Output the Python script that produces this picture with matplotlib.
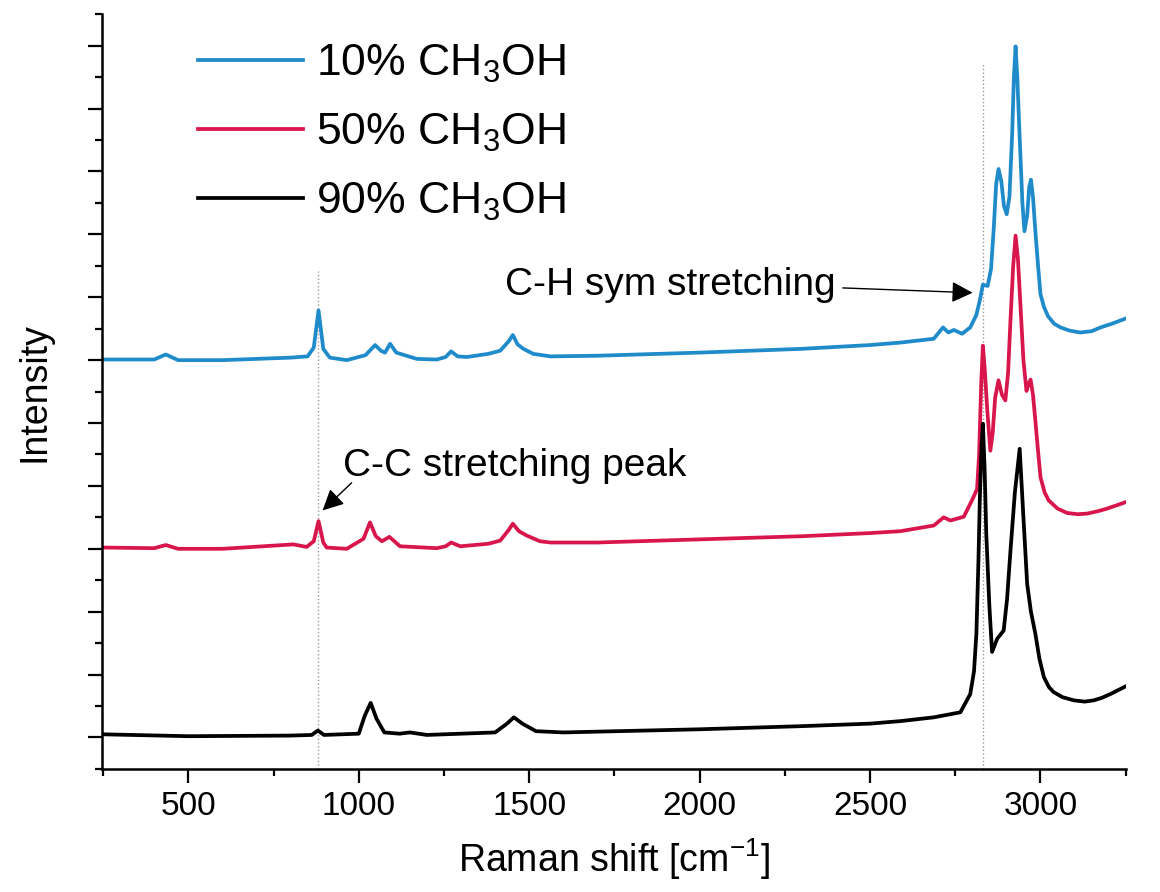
import numpy as np
import matplotlib
matplotlib.use('Agg')
import matplotlib.pyplot as plt
from matplotlib.ticker import MultipleLocator

plt.rcParams['font.family'] = ['Liberation Sans', 'DejaVu Sans']
plt.rcParams['mathtext.fontset'] = 'custom'
plt.rcParams['mathtext.rm'] = 'Liberation Sans'

blue_x = [250, 400, 434, 470, 600, 800, 850, 868, 882, 896, 915, 965, 1020, 1048, 1065, 1077,
          1092, 1110, 1170, 1229, 1255, 1271, 1290, 1317, 1380, 1415, 1440, 1452, 1466, 1483,
          1512, 1562, 1700, 2000, 2300, 2500, 2590, 2687, 2714, 2730, 2746, 2770, 2794, 2812,
          2822, 2831, 2845, 2855, 2863, 2870, 2877, 2885, 2893, 2901, 2909, 2917, 2922, 2927,
          2932, 2939, 2947, 2953, 2961, 2967, 2972, 2978, 2985, 2993, 3000, 3010, 3022, 3040,
          3059, 3085, 3117, 3150, 3176, 3210, 3249]
blue_y = [6.01, 6.01, 6.09, 6.0, 6.0, 6.04, 6.06, 6.2, 6.79, 6.18, 6.04, 6.0, 6.08, 6.24, 6.15, 6.12,
          6.26, 6.12, 6.02, 6.01, 6.05, 6.14, 6.06, 6.05, 6.1, 6.15, 6.3, 6.40, 6.25, 6.18,
          6.10, 6.06, 6.07, 6.12, 6.18, 6.24, 6.28, 6.34, 6.52, 6.44, 6.48, 6.42, 6.52, 6.72,
          6.95, 7.20, 7.18, 7.45, 8.1, 8.8, 9.04, 8.85, 8.45, 8.32, 8.6, 9.6, 10.5, 10.99,
          10.5, 9.54, 8.5, 8.05, 8.3, 8.75, 8.87, 8.6, 8.05, 7.5, 7.05, 6.85, 6.7, 6.58,
          6.52, 6.47, 6.44, 6.46, 6.52, 6.58, 6.66]

red_x = [250, 400, 434, 470, 600, 808, 847, 868, 882, 896, 906, 965, 1014, 1033, 1050, 1068,
         1090, 1121, 1229, 1255, 1271, 1298, 1380, 1415, 1440, 1452, 1470, 1493, 1532, 1562,
         1700, 2000, 2300, 2500, 2589, 2687, 2716, 2736, 2775, 2799, 2814, 2820, 2826, 2831,
         2836, 2844, 2853, 2860, 2867, 2877, 2887, 2897, 2905, 2912, 2920, 2927, 2934, 2941,
         2950, 2959, 2965, 2971, 2978, 2985, 2993, 3000, 3012, 3024, 3050, 3078, 3110, 3137,
         3170, 3196, 3249]
red_y = [3.02, 3.01, 3.06, 3.0, 3.0, 3.07, 3.03, 3.12, 3.44, 3.1, 3.02, 3.0, 3.16, 3.42, 3.2, 3.12,
         3.19, 3.04, 3.01, 3.04, 3.10, 3.04, 3.08, 3.13, 3.3, 3.40, 3.28, 3.21, 3.12, 3.10,
         3.1, 3.15, 3.2, 3.25, 3.28, 3.37, 3.50, 3.45, 3.51, 3.77, 3.95, 4.5, 5.6, 6.23,
         5.9, 5.2, 4.56, 4.85, 5.4, 5.68, 5.45, 5.36, 5.8, 6.63, 7.5, 7.98, 7.6, 6.90,
         6.0, 5.51, 5.62, 5.69, 5.45, 5.04, 4.55, 4.14, 3.9, 3.77, 3.64, 3.57, 3.55, 3.56,
         3.6, 3.64, 3.74]

black_x = [250, 500, 800, 862, 880, 898, 1000, 1018, 1035, 1052, 1075, 1120, 1150, 1200, 1400,
           1435, 1455, 1480, 1520, 1600, 2000, 2300, 2500, 2589, 2687, 2765, 2794, 2805, 2812,
           2818, 2822, 2827, 2831, 2836, 2841, 2850, 2858, 2873, 2892, 2902, 2912, 2925, 2939,
           2950, 2961, 2972, 2985, 2997, 3010, 3025, 3039, 3065, 3098, 3130, 3156, 3180, 3205,
           3249]
black_y = [0.05, 0.02, 0.03, 0.04, 0.11, 0.04, 0.06, 0.35, 0.55, 0.3, 0.08, 0.06, 0.08, 0.04, 0.08,
           0.22, 0.32, 0.22, 0.1, 0.08, 0.13, 0.18, 0.22, 0.26, 0.32, 0.40, 0.69, 1.05, 1.65,
           2.8, 3.77, 4.6, 4.99, 4.3, 3.24, 2.1, 1.36, 1.57, 1.70, 2.2, 2.97, 3.9, 4.59,
           3.5, 2.44, 2.0, 1.65, 1.25, 0.96, 0.8, 0.72, 0.64, 0.59, 0.57, 0.59, 0.63, 0.69,
           0.81]

labels = ['10% CH$_\\mathregular{3}$OH', '50% CH$_\\mathregular{3}$OH', '90% CH$_\\mathregular{3}$OH']
colors = ['#1f8bcb', '#d9164b', '#000000']

fig = plt.figure(figsize=(11.6, 8.92), dpi=100)
ax = fig.add_axes([0.088, 0.138, 0.883, 0.846])

ax.plot(blue_x, blue_y, color=colors[0], lw=2.7, label=labels[0])
ax.plot(red_x, red_y, color=colors[1], lw=2.7, label=labels[1])
ax.plot(black_x, black_y, color=colors[2], lw=2.7, label=labels[2])

# reference lines at the marked peaks
ax.plot([880, 880], [-0.5, 7.42], ls=':', color='#999999', lw=1.0, zorder=0)
ax.plot([2830, 2830], [-0.5, 10.73], ls=':', color='#999999', lw=1.0, zorder=0)

ax.text(2398, 7.19, 'C-H sym stretching', fontsize=28, ha='right', va='center')
ax.annotate('', xy=(2809, 7.07), xytext=(2412, 7.15),
            arrowprops=dict(arrowstyle='-|>', color='black', lw=1.0, mutation_scale=32))
ax.text(954, 4.32, 'C-C stretching peak', fontsize=28, ha='left', va='center')
ax.annotate('', xy=(888, 3.58), xytext=(985, 4.08),
            arrowprops=dict(arrowstyle='-|>', color='black', lw=1.0, mutation_scale=32))

ax.set_xlim(247, 3252)
ax.set_ylim(-0.5, 11.5)
ax.xaxis.set_major_locator(MultipleLocator(500))
ax.xaxis.set_minor_locator(MultipleLocator(250))
ax.yaxis.set_major_locator(MultipleLocator(1))
ax.yaxis.set_minor_locator(MultipleLocator(0.5))
ax.set_yticklabels([])
ax.tick_params(axis='both', which='major', direction='out', length=10, width=1.6, labelsize=24)
ax.tick_params(axis='both', which='minor', direction='out', length=5, width=1.6)
ax.tick_params(axis='x', pad=6)
for s in ['top', 'right']:
    ax.spines[s].set_visible(False)
for s in ['left', 'bottom']:
    ax.spines[s].set_linewidth(1.8)

ax.set_xlabel('Raman shift [cm$^{\\mathregular{-1}}$]', fontsize=27, labelpad=10)
ax.set_ylabel('Intensity', fontsize=27, labelpad=22)

ax.legend(loc='upper left', bbox_to_anchor=(0.055, 1.015), frameon=False, fontsize=32,
          handlelength=2.35, handletextpad=0.3, labelspacing=0.6)

plt.savefig('out.png', dpi=100)
